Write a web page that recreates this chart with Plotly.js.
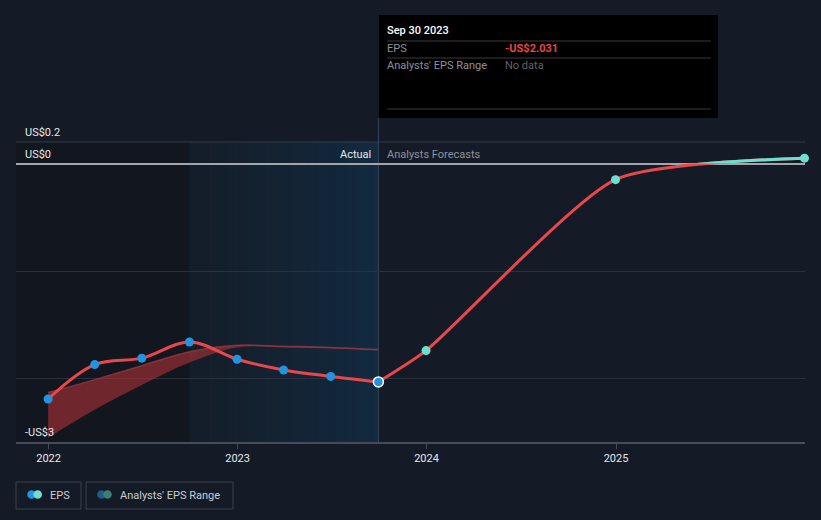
<!DOCTYPE html>
<html><head><meta charset="utf-8">
<script src="https://cdn.plot.ly/plotly-3.0.1.min.js"></script>
<style>html,body{margin:0;padding:0;background:#151b26;}#chart{width:821px;height:520px;}</style>
</head><body><div id="chart"></div>
<script>
// ---- data ----
const actualDates = ['2021-12-31','2022-03-31','2022-06-30','2022-09-30','2022-12-31','2023-03-31','2023-06-30','2023-09-30'];
const epsActual = [-2.19,-1.87,-1.81,-1.66,-1.82,-1.92,-1.98,-2.031];
const forecastDates = ['2023-09-30','2023-12-31','2024-12-31','2025-12-31'];
const epsForecast = [-2.031,-1.74,-0.15,0.05];
const rangeDates = ['2021-12-31','2022-03-31','2022-06-30','2022-09-30','2022-12-31','2023-03-31','2023-06-30','2023-09-30'];
const rangeHigh = [-2.13,-2.01,-1.88,-1.75,-1.69,-1.70,-1.71,-1.73];
const rangeLow  = [-2.55,-2.29,-2.06,-1.85,-1.71,-1.71,-1.72,-1.74];
const xTickVals = ['2022-01-01','2023-01-01','2024-01-01','2025-01-01'];
const xTickText = ['2022','2023','2024','2025'];
const yLabelVals = [0.2, 0, -2.59];
const yLabelText = ['US$0.2','US$0','-US$3'];
const pastStart = '2022-09-30';
const actualEnd = '2023-09-30';
const hoverDate = 'Sep 30 2023';
const hoverEps = '-US$2.031';
const legendNames = ['EPS', "Analysts' EPS Range"];

// ---- layout helpers ----
const L = 16, R = 805, T = 142, B = 442;
const px = x => (x - L) / (R - L);
const py = y => (B - y) / (B - T);
const Y0 = -2.59, Y1 = 0.2;
const X0 = '2021-10-30', X1 = '2026-01-01';

const RED = '#e8474c', BLUE = '#2394df', CYAN = '#6ce0cf';
const FONT = 'Roboto, "Open Sans", sans-serif';

const shapes = [];
const annotations = [];

shapes.push({type:'rect', xref:'x', yref:'paper', x0:X0, x1:pastStart, y0:0, y1:1, fillcolor:'#12161e', line:{width:0}, layer:'below'});
const t0 = new Date(pastStart).getTime(), t1 = new Date(actualEnd).getTime();
const N = 30;
const c0 = [20,30,42], c1 = [19,42,64];
for (let i = 0; i < N; i++) {
  const a = new Date(t0 + (t1 - t0) * i / N).toISOString();
  const b = new Date(t0 + (t1 - t0) * (i + 1) / N + 3600e3*24).toISOString();
  const f = Math.pow(i / (N - 1), 1.3);
  const c = c0.map((v, k) => Math.round(v + (c1[k] - v) * f));
  shapes.push({type:'rect', xref:'x', yref:'paper', x0:a, x1:b, y0:0, y1:1, fillcolor:`rgb(${c.join(',')})`, line:{width:0}, layer:'below'});
}
shapes.push({type:'line', xref:'paper', yref:'paper', x0:0, x1:1, y0:1, y1:1, line:{color:'#353c47', width:1}, layer:'below'});
shapes.push({type:'line', xref:'x', yref:'paper', x0:actualEnd, x1:actualEnd, y0:0, y1:py(118), line:{color:'#34475c', width:1}, layer:'below'});
shapes.push({type:'rect', xref:'paper', yref:'paper', x0:px(379), x1:px(718), y0:py(118), y1:py(15), fillcolor:'#000000', line:{width:0}});
[41, 58, 109].forEach(y => shapes.push({type:'line', xref:'paper', yref:'paper', x0:px(387), x1:px(711), y0:py(y), y1:py(y), line:{color:'#3a3a3a', width:1}}));

const ann = (x, y, text, color, size, xanchor, weight) => annotations.push({
  xref:'paper', yref:'paper', x:px(x), y:py(y), text, showarrow:false, xanchor:xanchor||'left', yanchor:'middle',
  borderpad:0, borderwidth:0,
  font:{family:FONT, size:size||11, color, weight:weight||400}
});
ann(387, 31, hoverDate, '#ffffff', 11, 'left', 500);
ann(387, 49, 'EPS', '#8d929a', 11);
ann(505, 49, hoverEps, '#e8474c', 11, 'left', 700);
ann(387, 66, legendNames[1], '#8d929a', 11);
ann(505, 66, 'No data', '#5f646c', 11);
ann(371, 154, 'Actual', '#e6e8eb', 11, 'right');
ann(387, 154, 'Analysts Forecasts', '#8d929a', 11, 'left');
yLabelVals.forEach((v, i) => annotations.push({
  xref:'paper', yref:'y', x:px(24), y:v, text:yLabelText[i], showarrow:false, xanchor:'left', yanchor:'bottom', yshift:2,
  borderpad:0, font:{family:FONT, size:11, color:'#e6e8eb'}
}));

[[16, 81], [86, 233]].forEach(([a, b]) => shapes.push({type:'rect', xref:'paper', yref:'paper', x0:px(a), x1:px(b), y0:py(509), y1:py(482), line:{color:'#3a414d', width:1}, fillcolor:'rgba(0,0,0,0)'}));
const dot = (cx, color) => shapes.push({type:'circle', xref:'paper', yref:'paper', xsizemode:'pixel', ysizemode:'pixel', xanchor:px(cx), yanchor:py(494.5), x0:-4.3, x1:4.3, y0:-4.3, y1:4.3, fillcolor:color, line:{width:0}});
dot(31.5, BLUE); dot(37.7, CYAN); dot(101.5, '#245a89'); dot(107.5, '#3b7d78');
ann(50, 495, legendNames[0], '#c9ccd1', 11);
ann(120, 495, legendNames[1], '#c9ccd1', 11);

const traces = [
  {x:rangeDates, y:rangeHigh, type:'scatter', mode:'lines', line:{shape:'spline', width:1.5, color:'rgba(160,60,70,0.7)'}, hoverinfo:'skip'},
  {x:rangeDates, y:rangeLow, type:'scatter', mode:'lines', fill:'tonexty', fillcolor:'rgba(170,50,55,0.62)', line:{shape:'spline', width:0, color:'rgba(0,0,0,0)'}, hoverinfo:'skip'},
  {x:actualDates, y:epsActual, type:'scatter', mode:'lines', line:{shape:'spline', width:3, color:RED}, hoverinfo:'skip'},
  {x:forecastDates, y:epsForecast, type:'scatter', mode:'lines', line:{shape:'spline', smoothing:0.6, width:3, color:RED}, hoverinfo:'skip'},
  {x:forecastDates, y:epsForecast, type:'scatter', mode:'lines', yaxis:'y2', line:{shape:'spline', smoothing:0.6, width:3, color:CYAN}, hoverinfo:'skip'},
  {x:actualDates.slice(0, -1), y:epsActual.slice(0, -1), type:'scatter', mode:'markers', marker:{size:9, color:BLUE}, hoverinfo:'skip'},
  {x:actualDates.slice(-1), y:epsActual.slice(-1), type:'scatter', mode:'markers', marker:{size:10, color:BLUE, line:{color:'#ffffff', width:1.5}}, hoverinfo:'skip'},
  {x:forecastDates.slice(1), y:epsForecast.slice(1), type:'scatter', mode:'markers', marker:{size:9, color:CYAN}, hoverinfo:'skip', cliponaxis:false}
];

const d2 = (0 - Y0) / (Y1 - Y0);
const layout = {
  width:821, height:520,
  margin:{l:L, r:821 - R, t:T, b:520 - B},
  paper_bgcolor:'#151b26', plot_bgcolor:'rgba(0,0,0,0)',
  showlegend:false,
  font:{family:FONT, color:'#d0d3d8'},
  xaxis:{type:'date', range:[X0, X1], tickvals:xTickVals, ticktext:xTickText, showgrid:false, zeroline:false,
         showline:true, linecolor:'#474d58', linewidth:1.5, ticks:'outside', ticklen:5, tickcolor:'#474d58',
         tickfont:{family:FONT, size:11, color:'#e6e8eb'}, fixedrange:true},
  yaxis:{range:[Y0, Y1], tickvals:[-2, -1], showticklabels:false, showgrid:true, gridcolor:'#2a313c', gridwidth:1,
         zeroline:true, zerolinecolor:'#a2a6ad', zerolinewidth:2, fixedrange:true},
  yaxis2:{domain:[d2, 1], range:[0, Y1], visible:false, anchor:'x', fixedrange:true},
  shapes, annotations
};
Plotly.newPlot('chart', traces, layout, {displayModeBar:false, staticPlot:true});
</script></body></html>
